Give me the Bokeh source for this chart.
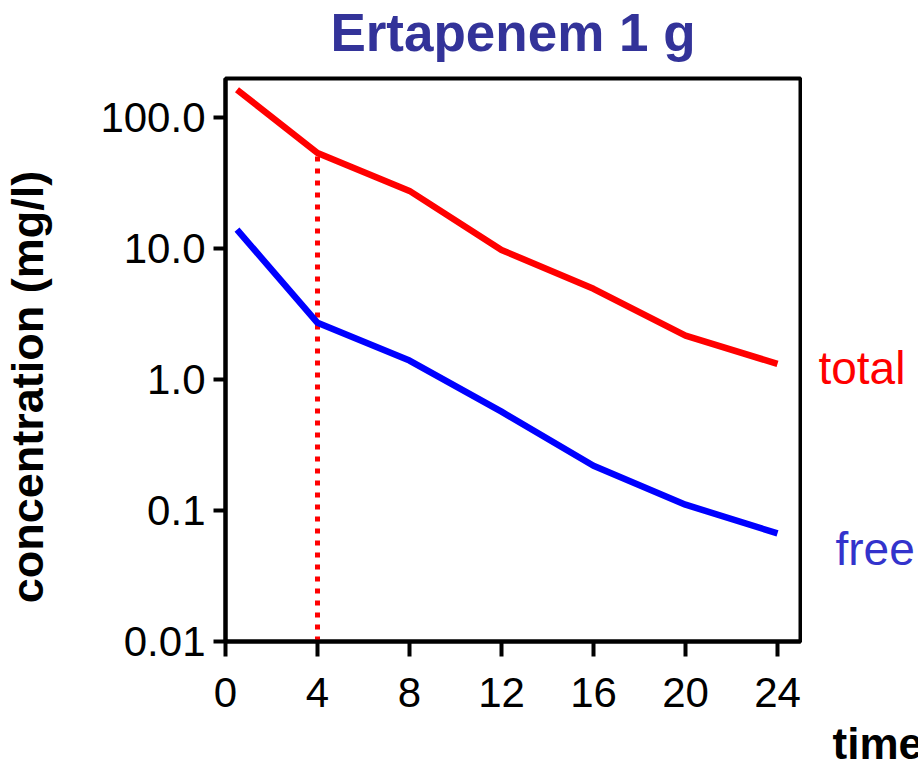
import math
from bokeh.plotting import figure
from bokeh.layouts import row
from bokeh.models import FixedTicker, Range1d, Title, LinearAxis
from bokeh.core.properties import value
from bokeh.embed import file_html
from bokeh.resources import INLINE

# Data
hours = [0.5, 4, 8, 12, 16, 20, 24]
total_conc = [164, 54, 27.7, 9.8, 4.95, 2.17, 1.32]
free_conc = [14, 2.72, 1.4, 0.57, 0.22, 0.111, 0.067]
marker_time = [4, 4]
marker_conc = [0.01, 54]
x_ticks = [0, 4, 8, 12, 16, 20, 24]
y_ticks = [0.01, 0.1, 1, 10, 100]
y_tick_labels = ["0.01", "0.1", "1.0", "10.0", "100.0"]

FONT = "Liberation Sans"

# layout geometry (pixels)
W, H = 918, 767
L_W, R_W = 90, 116
P_W = W - L_W - R_W
TOP, BOTTOM = 78, 126
X0, X1 = 0, 25
FRAME_LEFT = 225
FRAME_RIGHT = 800
px_per_x = (FRAME_RIGHT - FRAME_LEFT) / (X1 - X0)
y_range = Range1d(0.01, 200)


def spacer_axis(size, at):
    """An axis with one invisible tick, used only to reserve space in a side panel."""
    return LinearAxis(ticker=FixedTicker(ticks=[at]), major_tick_out=size, major_tick_in=0,
                      minor_tick_out=0, minor_tick_in=0, axis_line_color=None,
                      major_tick_line_color="white", major_tick_line_alpha=0.001,
                      major_tick_line_width=1, minor_tick_line_color=None,
                      major_label_overrides={at: ""}, major_label_text_font_size="0px",
                      major_label_standoff=0)


def side_fig(width, left_px):
    xr = Range1d(X0 + (left_px - FRAME_LEFT) / px_per_x,
                 X0 + (left_px + width - FRAME_LEFT) / px_per_x)
    f = figure(width=width, height=H, y_axis_type="log", x_range=xr, y_range=y_range,
               output_backend="svg", toolbar_location=None,
               min_border_left=0, min_border_right=0,
               min_border_top=TOP, min_border_bottom=BOTTOM)
    f.axis.visible = False
    f.grid.visible = False
    f.outline_line_color = None
    f.background_fill_color = "white"
    f.border_fill_color = "white"
    return f


p = figure(width=P_W, height=H, y_axis_type="log",
           x_range=Range1d(X0, X1), y_range=y_range,
           output_backend="svg", toolbar_location=None,
           min_border_left=FRAME_LEFT - L_W, min_border_right=L_W + P_W - FRAME_RIGHT,
           min_border_top=TOP, min_border_bottom=BOTTOM)
x_axis = p.below[0]
y_axis = p.left[0]

p.grid.visible = False
p.background_fill_color = "white"
p.border_fill_color = "white"
p.outline_line_color = "black"
p.outline_line_width = 4
p.outline_line_alpha = 1

p.add_layout(spacer_axis(17, 12), "above")
p.title.text = "Ertapenem 1 g"
p.title.align = "center"
p.title.vertical_align = "bottom"
p.title.text_font = FONT
p.title.text_font_style = "bold"
p.title.text_font_size = "53px"
p.title.text_color = "#333399"
p.title.standoff = 0

for ax in (x_axis, y_axis):
    ax.axis_line_width = 4
    ax.axis_line_color = "black"
    ax.major_tick_line_width = 4
    ax.major_tick_line_color = "black"
    ax.major_tick_in = 0
    ax.minor_tick_line_color = None
    ax.major_label_text_font = FONT
    ax.major_label_text_font_size = "42px"
    ax.major_label_text_color = "black"

x_axis.ticker = FixedTicker(ticks=x_ticks)
x_axis.major_tick_out = 15
x_axis.major_label_standoff = 21
y_axis.ticker = FixedTicker(ticks=y_ticks)
y_axis.major_label_overrides = {t: l for t, l in zip(y_ticks, y_tick_labels)}
y_axis.major_tick_out = 12
y_axis.major_label_standoff = 8

p.line(marker_time, marker_conc, line_color="#ff0000", line_width=5, line_dash="5 7")
p.line(hours, total_conc, line_color="#ff0000", line_width=6.5)
p.line(hours, free_conc, line_color="#0000ff", line_width=6.5)

# left strip: y-axis title
left = side_fig(L_W, 0)
left.text(x=[-8.6], y=[0.88], text=["concentration (mg/l)"], angle=math.pi / 2,
          text_align="center", text_baseline="middle",
          text_font=value(FONT), text_font_style="bold", text_font_size="45px",
          text_color="black")

# right strip: series names and x-axis title
right = side_fig(R_W, FRAME_RIGHT + 2)
right.text(x=[25.78], y=[1.239], text=["total"], text_align="left",
           text_baseline="alphabetic", text_font=value(FONT), text_font_size="46px",
           text_color="#ff0000")
right.text(x=[26.52], y=[0.0505], text=["free"], text_align="left",
           text_baseline="alphabetic", text_font=value(FONT), text_font_size="46px",
           text_color="#3333cc")
right.add_layout(spacer_axis(75, 29.5), "below")
right.add_layout(Title(text="time", align="left", offset=30, standoff=0,
                       vertical_align="bottom",
                       text_font=FONT, text_font_style="bold", text_font_size="44px",
                       text_color="black"), "below")

layout = row(left, p, right, spacing=0)
open("out.html", "w").write(file_html(layout, INLINE))
